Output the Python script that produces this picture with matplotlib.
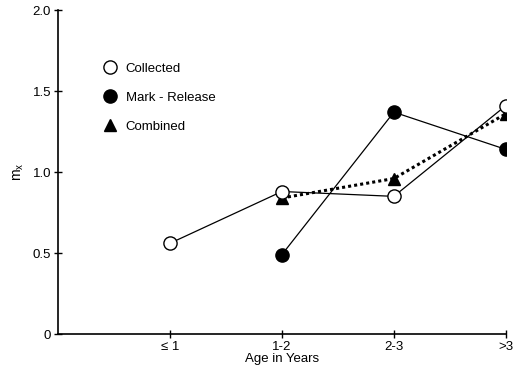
import matplotlib
matplotlib.use("Agg")
import matplotlib.pyplot as plt
from matplotlib.lines import Line2D

# age classes and m_x values
age_labels = ["\u2264 1", "1-2", "2-3", ">3"]
age_pos = [1, 2, 3, 4]

collected_x = [1, 2, 3, 4]
collected_y = [0.56, 0.88, 0.85, 1.41]

mark_release_x = [2, 3, 4]
mark_release_y = [0.49, 1.37, 1.14]

combined_x = [2, 3, 4]
combined_y = [0.84, 0.96, 1.36]

plt.rcParams["font.family"] = ["Liberation Sans", "DejaVu Sans"]

fig = plt.figure(figsize=(5.22, 3.71), dpi=100)
ax = fig.add_axes([0.111, 0.0997, 0.858, 0.873])

ax.plot(combined_x, combined_y, color="black", linestyle=(0, (1, 1)), linewidth=2.2,
        marker="^", markersize=8, markerfacecolor="black", markeredgecolor="black", zorder=3)
ax.plot(mark_release_x, mark_release_y, color="black", linewidth=0.9,
        marker="o", markersize=9.5, markerfacecolor="black", markeredgecolor="black", zorder=4)
ax.plot(collected_x, collected_y, color="black", linewidth=0.9,
        marker="o", markersize=9.5, markerfacecolor="white", markeredgecolor="black",
        markeredgewidth=1.0, zorder=5)

ax.set_xlim(0, 4)
ax.set_ylim(0, 2.0)
ax.set_xticks(age_pos)
ax.set_xticklabels(age_labels)
ax.set_yticks([0, 0.5, 1.0, 1.5, 2.0])
ax.set_yticklabels(["0", "0.5", "1.0", "1.5", "2.0"])
ax.tick_params(direction="inout", length=6, width=1.0, labelsize=9.5, pad=2)

for side in ["top", "right"]:
    ax.spines[side].set_visible(False)
for side in ["left", "bottom"]:
    ax.spines[side].set_linewidth(1.2)

ax.set_xlabel("Age in Years", fontsize=9.5, labelpad=0)
ax.set_ylabel("$\\mathregular{m_x}$", fontsize=10, labelpad=5)

handles = [
    Line2D([], [], linestyle="none", marker="o", markersize=9.5,
           markerfacecolor="white", markeredgecolor="black"),
    Line2D([], [], linestyle="none", marker="o", markersize=9.5,
           markerfacecolor="black", markeredgecolor="black"),
    Line2D([], [], linestyle="none", marker="^", markersize=8,
           markerfacecolor="black", markeredgecolor="black"),
]
ax.legend(handles, ["Collected", "Mark - Release", "Combined"],
          loc="upper left", bbox_to_anchor=(0.075, 0.875), frameon=False,
          fontsize=9.5, handlelength=1.0, handletextpad=0.7, labelspacing=1.28)

fig.savefig("out.png", dpi=100)
